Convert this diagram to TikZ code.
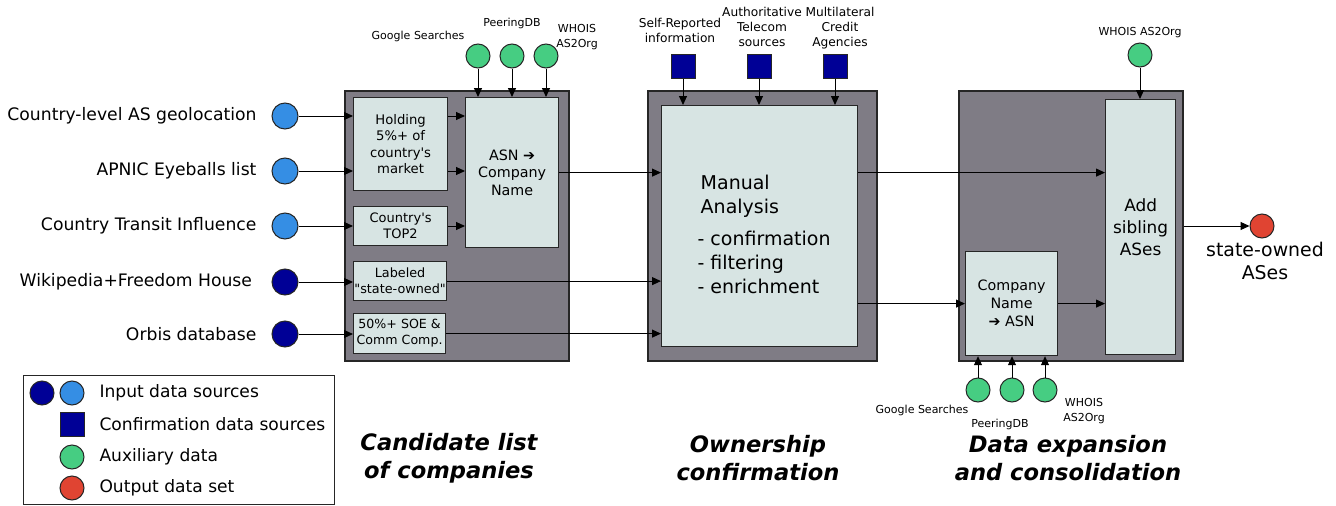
\documentclass[tikz,border=0pt]{standalone}
\usepackage{fontspec}
\setmainfont{DejaVu Sans}
\usetikzlibrary{arrows.meta,positioning}

\definecolor{panelgray}{HTML}{7F7C85}
\definecolor{boxcyan}{HTML}{D7E4E3}
\definecolor{inlight}{HTML}{358EE4}
\definecolor{indark}{HTML}{000096}
\definecolor{auxgreen}{HTML}{46CD82}
\definecolor{outred}{HTML}{E04432}

\tikzset{
  panel/.style={draw=black!85, fill=panelgray, line width=1.6pt, anchor=north west, inner sep=0pt},
  stepbox/.style={draw=black!85, fill=boxcyan, line width=1.2pt, anchor=north west, inner sep=0pt, align=center},
  dot/.style={circle, draw=black!85, line width=1pt, inner sep=0pt, minimum size=#1},
  dot/.default=24pt,
  conf/.style={rectangle, draw=black!85, fill=indark, line width=1pt, inner sep=0pt, minimum size=24pt},
  inlbl/.style={font=\fontsize{17.2}{20}\selectfont, anchor=east},
  tiny/.style={font=\fontsize{11}{15}\selectfont, align=center},
  steptitle/.style={font=\fontsize{22.6}{28}\selectfont\bfseries\itshape, align=center},
  link/.style={line width=1pt, -{Triangle[length=9pt,width=8pt]}},
}

\begin{document}
\begin{tikzpicture}[x=1pt,y=-1pt]
  \useasboundingbox (0,0) rectangle (1336,506);

  % panels
  \node[panel, minimum width=224pt, minimum height=270pt] (cand) at (344,90) {};
  \node[panel, minimum width=229pt, minimum height=270pt] (own) at (647,90) {};
  \node[panel, minimum width=224pt, minimum height=270pt] (exp) at (958,90) {};

  % candidate list
  \node[stepbox, minimum width=94pt, minimum height=93pt, font=\fontsize{13.2}{16.5}\selectfont] (hold) at (353,97) {Holding\\5\%+ of\\country\textquotesingle s\\market};
  \node[stepbox, minimum width=94pt, minimum height=39pt, font=\fontsize{13}{16}\selectfont] (top2) at (353,206) {Country\textquotesingle s\\TOP2};
  \node[stepbox, minimum width=93pt, minimum height=39pt, font=\fontsize{12.8}{16}\selectfont] (lab) at (353,261) {Labeled\\\textquotedbl state-owned\textquotedbl};
  \node[stepbox, minimum width=92pt, minimum height=40pt, font=\fontsize{12.6}{16}\selectfont] (soe) at (353,313) {50\%+ SOE \&\\Comm Comp.};
  \node[stepbox, minimum width=93pt, minimum height=150pt, font=\fontsize{14.3}{17.5}\selectfont] (asn) at (465,97) {ASN ➔\\Company\\Name};

  % ownership confirmation
  \node[stepbox, minimum width=196pt, minimum height=241pt] (manual) at (661,105) {};
  \node[font=\fontsize{19}{24}\selectfont, align=left, anchor=west] (manual_txt) at (694,234)
    {\,Manual\\\,Analysis\\[8pt]- confirmation\\- filtering\\- enrichment};

  % data expansion
  \node[stepbox, minimum width=70pt, minimum height=255pt, font=\fontsize{16.9}{21.7}\selectfont] (sib) at (1105,99) {Add\\sibling\\ASes};
  \node[stepbox, minimum width=92pt, minimum height=104pt, font=\fontsize{14.3}{18}\selectfont] (comp) at (965,251) {Company\\Name\\➔ ASN};

  % input sources
  \node[dot=26pt, fill=inlight] (in_1) at (285,116) {};
  \node[dot=26pt, fill=inlight] (in_2) at (285,171) {};
  \node[dot=26pt, fill=inlight] (in_3) at (285,226) {};
  \node[dot=26pt, fill=indark]  (in_4) at (285,282) {};
  \node[dot=26pt, fill=indark]  (in_5) at (285,334) {};
  \node[inlbl, left=11.5pt of in_1] (in_1_lbl) {Country-level AS geolocation};
  \node[inlbl, left=11.5pt of in_2] (in_2_lbl) {APNIC Eyeballs list};
  \node[inlbl, left=11.5pt of in_3] (in_3_lbl) {Country Transit Influence};
  \node[inlbl, left=16pt of in_4] (in_4_lbl) {Wikipedia+Freedom House};
  \node[inlbl, left=11.5pt of in_5] (in_5_lbl) {Orbis database};

  % auxiliary data
  \node[dot, fill=auxgreen] (aux_1) at (478,56) {};
  \node[dot, fill=auxgreen] (aux_2) at (512,56) {};
  \node[dot, fill=auxgreen] (aux_3) at (546,56) {};
  \node[tiny] (aux_1_lbl) at (418,36) {Google Searches};
  \node[tiny] (aux_2_lbl) at (512,23) {PeeringDB};
  \node[tiny] (aux_3_lbl) at (577,37) {WHOIS\\AS2Org};
  \node[dot, fill=auxgreen] (aux_4) at (1140,55) {};
  \node[tiny, above=1.5pt of aux_4] (aux_4_lbl) {WHOIS AS2Org};
  \node[dot, fill=auxgreen] (aux_5) at (978,390) {};
  \node[dot, fill=auxgreen] (aux_6) at (1012,390) {};
  \node[dot, fill=auxgreen] (aux_7) at (1045,390) {};
  \node[tiny] (aux_5_lbl) at (922,410) {Google Searches};
  \node[tiny] (aux_6_lbl) at (1000,424) {PeeringDB};
  \node[tiny] (aux_7_lbl) at (1084,411) {WHOIS\\AS2Org};

  % confirmation sources
  \node[conf] (conf_1) at (683,66) {};
  \node[conf] (conf_2) at (759,66) {};
  \node[conf] (conf_3) at (835,66) {};
  \node[tiny, font=\fontsize{12.2}{15}\selectfont] (conf_1_lbl) at (680,30) {Self-Reported\\information};
  \node[tiny, font=\fontsize{12.2}{15}\selectfont] (conf_2_lbl) at (762,27) {Authoritative\\Telecom\\sources};
  \node[tiny, font=\fontsize{12.2}{15}\selectfont] (conf_3_lbl) at (840,28) {Multilateral\\Credit\\Agencies};

  % output
  \node[dot, fill=outred] (out) at (1262,226) {};
  \node[font=\fontsize{18.9}{23}\selectfont, align=center, below=0pt of out, xshift=3pt] (out_lbl) {state-owned\\ASes};

  \path[link]
    (in_1) edge (in_1 -| hold.west)
    (in_2) edge (in_2 -| hold.west)
    (in_3) edge (in_3 -| top2.west)
    (in_4) edge (in_4 -| lab.west)
    (in_5) edge (in_5 -| soe.west)
    (hold.east |- in_1) edge (asn.west |- in_1)
    (hold.east |- in_2) edge (asn.west |- in_2)
    (top2.east |- in_3) edge (asn.west |- in_3)
    (aux_1) edge (aux_1 |- asn.north)
    (aux_2) edge (aux_2 |- asn.north)
    (aux_3) edge (aux_3 |- asn.north)
    (asn.east) edge (manual.west |- asn.east)
    (lab.east) edge (manual.west |- lab.east)
    (soe.east) edge (manual.west |- soe.east)
    (conf_1) edge (conf_1 |- manual.north)
    (conf_2) edge (conf_2 |- manual.north)
    (conf_3) edge (conf_3 |- manual.north)
    (manual.east |- asn.east) edge (sib.west |- asn.east)
    (manual.east |- comp.west) edge (comp.west)
    (comp.east) edge (sib.west |- comp.east)
    (aux_4) edge (aux_4 |- sib.north)
    (aux_5) edge (aux_5 |- comp.south)
    (aux_6) edge (aux_6 |- comp.south)
    (aux_7) edge (aux_7 |- comp.south)
    (out -| exp.east) edge (out);

  % step titles
  \node[steptitle] (cand_title) at (449,458) {Candidate list\\ of companies};
  \node[steptitle] (own_title) at (758,458) {Ownership\\confirmation};
  \node[steptitle] (exp_title) at (1068,458) {Data expansion\\and consolidation};

  % legend
  \node[draw=black!85, line width=1.2pt, anchor=north west, minimum width=311pt, minimum height=129pt] (legend) at (23,375) {};
  \node[dot, fill=indark] (leg_dark) at (42,393) {};
  \node[dot, fill=inlight] (leg_light) at (72,393) {};
  \node[conf] (leg_conf) at (72,424) {};
  \node[dot, fill=auxgreen] (leg_aux) at (72,457) {};
  \node[dot, fill=outred] (leg_out) at (72,488) {};
  \begin{scope}[every node/.style={font=\fontsize{17.1}{20}\selectfont, anchor=west}]
    \node (leg_in_txt) at (96,393) {Input data sources};
    \node (leg_conf_txt) at (96,424) {Confirmation data sources};
    \node (leg_aux_txt) at (96,457) {Auxiliary data};
    \node (leg_out_txt) at (96,488) {Output data set};
  \end{scope}
\end{tikzpicture}
\end{document}
